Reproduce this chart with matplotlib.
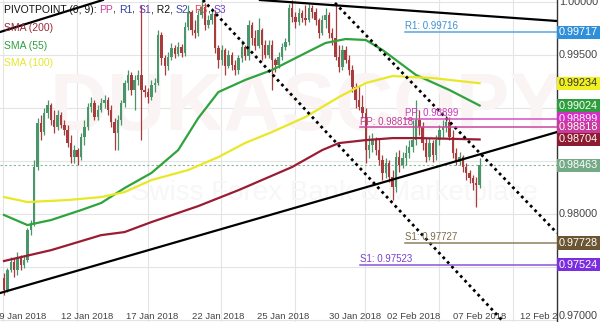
import matplotlib
matplotlib.use("Agg")
import matplotlib.pyplot as plt
import matplotlib.transforms as mtransforms
import numpy as np

plt.rcParams['font.family'] = ['Liberation Sans', 'DejaVu Sans']

# 4H candles, open of each candle = close of the previous one
first_open = 0.97397
closes = [0.97284, 0.97471, 0.97548, 0.97471, 0.97586, 0.97519, 0.97567, 0.97850, 0.97916, 0.98444,
          0.98859, 0.98774, 0.98953, 0.99029, 0.98887, 0.98821, 0.98935, 0.98840, 0.98793, 0.98671,
          0.98539, 0.98605, 0.98539, 0.98727, 0.98821, 0.99010, 0.99048, 0.98916, 0.98982, 0.99048,
          0.99076, 0.98982, 0.98869, 0.98765, 0.98887, 0.99048, 0.99236, 0.99312, 0.99170, 0.99265,
          0.99312, 0.99170, 0.99151, 0.99104, 0.99217, 0.99236, 0.99689, 0.99472, 0.99397, 0.99481,
          0.99566, 0.99510, 0.99576, 0.99519, 0.99764, 0.99906, 0.99736, 0.99708, 0.99878, 0.99953,
          0.99783, 0.99830, 0.99887, 0.99566, 0.99453, 0.99547, 0.99397, 0.99500, 0.99406, 0.99359,
          0.99472, 0.99576, 0.99491, 0.99783, 0.99661, 0.99585, 0.99736, 0.99595, 0.99500, 0.99595,
          0.99453, 0.99406, 0.99481, 0.99576, 0.99623, 0.99944, 0.99859, 0.99812, 0.99896, 0.99849,
          0.99830, 0.99944, 0.99906, 0.99830, 0.99708, 0.99830, 0.99878, 0.99708, 0.99661, 0.99481,
          0.99387, 0.99547, 0.99453, 0.99359, 0.99199, 0.99076, 0.99010, 0.98953, 0.98605, 0.98652,
          0.98699, 0.98605, 0.98510, 0.98388, 0.98482, 0.98350, 0.98255, 0.98539, 0.98463, 0.98529,
          0.98576, 0.98633, 0.98699, 0.98887, 0.98821, 0.98671, 0.98539, 0.98671, 0.98557, 0.98699,
          0.98793, 0.98821, 0.98869, 0.98727, 0.98576, 0.98491, 0.98539, 0.98444, 0.98388, 0.98341,
          0.98293, 0.98274, 0.98463]
highs = [0.97445, 0.97492, 0.97595, 0.97586, 0.97643, 0.97614, 0.97614, 0.97869, 0.97944, 0.98510,
         0.98906, 0.98935, 0.99001, 0.99076, 0.99048, 0.98982, 0.98982, 0.98963, 0.98887, 0.98840,
         0.98746, 0.98652, 0.98623, 0.98765, 0.98887, 0.99048, 0.99104, 0.99076, 0.99029, 0.99095,
         0.99123, 0.99104, 0.99029, 0.98906, 0.98935, 0.99076, 0.99265, 0.99359, 0.99340, 0.99312,
         0.99359, 0.99972, 0.99217, 0.99189, 0.99265, 0.99283, 0.99736, 0.99717, 0.99500, 0.99529,
         0.99614, 0.99595, 0.99623, 0.99604, 0.99812, 0.99972, 0.99925, 0.99830, 0.99925, 1.00019,
         0.99991, 0.99878, 0.99944, 0.99925, 0.99595, 0.99595, 0.99566, 0.99547, 0.99529, 0.99453,
         0.99500, 0.99642, 0.99595, 0.99830, 0.99812, 0.99736, 0.99849, 0.99755, 0.99642, 0.99642,
         0.99642, 0.99472, 0.99529, 0.99614, 0.99661, 0.99981, 1.00019, 0.99906, 0.99944, 0.99925,
         0.99972, 0.99981, 0.99972, 0.99944, 0.99849, 0.99878, 0.99944, 0.99906, 0.99755, 0.99991,
         0.99595, 0.99595, 0.99585, 0.99500, 0.99406, 0.99236, 0.99217, 0.99123, 0.99001, 0.98746,
         0.98765, 0.98727, 0.98718, 0.98557, 0.98529, 0.98510, 0.98416, 0.98586, 0.98605, 0.98586,
         0.98652, 0.98699, 0.98887, 0.99076, 0.98982, 0.98869, 0.98718, 0.98718, 0.98699, 0.98746,
         0.98840, 0.98887, 0.98935, 0.98916, 0.98793, 0.98623, 0.98586, 0.98557, 0.98482, 0.98416,
         0.98369, 0.98350, 0.98529]
lows = [0.97237, 0.97265, 0.97454, 0.97407, 0.97426, 0.97471, 0.97492, 0.97548, 0.97803, 0.97888,
        0.98416, 0.98699, 0.98746, 0.98906, 0.98840, 0.98765, 0.98793, 0.98812, 0.98746, 0.98633,
        0.98482, 0.98482, 0.98463, 0.98510, 0.98652, 0.98793, 0.98963, 0.98887, 0.98887, 0.98963,
        0.99001, 0.98935, 0.98821, 0.98605, 0.98605, 0.98840, 0.99010, 0.99170, 0.99123, 0.98982,
        0.99217, 0.98699, 0.99104, 0.99048, 0.99076, 0.99151, 0.99217, 0.99406, 0.99312, 0.99359,
        0.99453, 0.99472, 0.99491, 0.99481, 0.99491, 0.99736, 0.99689, 0.99661, 0.99679, 0.99849,
        0.99736, 0.99755, 0.99793, 0.99519, 0.99378, 0.99406, 0.99312, 0.99378, 0.99359, 0.99312,
        0.99321, 0.99434, 0.99453, 0.99453, 0.99595, 0.99547, 0.99566, 0.99453, 0.99472, 0.99472,
        0.99170, 0.99340, 0.99378, 0.99453, 0.99547, 0.99595, 0.99812, 0.99755, 0.99783, 0.99812,
        0.99783, 0.99812, 0.99849, 0.99783, 0.99661, 0.99689, 0.99755, 0.99661, 0.99595, 0.99453,
        0.99340, 0.99359, 0.99425, 0.99312, 0.99151, 0.99001, 0.98982, 0.98906, 0.98482, 0.98529,
        0.98586, 0.98557, 0.98463, 0.98322, 0.98341, 0.98303, 0.98133, 0.98208, 0.98397, 0.98435,
        0.98463, 0.98529, 0.98586, 0.98652, 0.98746, 0.98605, 0.98491, 0.98510, 0.98491, 0.98510,
        0.98652, 0.98718, 0.98774, 0.98699, 0.98529, 0.98463, 0.98463, 0.98397, 0.98322, 0.98293,
        0.98227, 0.98067, 0.98246]

# moving averages (candle index, value)
sma200_idx = [0, 14, 29, 36, 44, 58, 70, 86, 95, 100, 108, 116, 124, 142]
sma200_val = [0.97558, 0.97660, 0.97802, 0.97831, 0.97925, 0.98076, 0.98226, 0.98444, 0.98604,
              0.98670, 0.98698, 0.98717, 0.98717, 0.98704]
sma55_idx = [0, 7, 14, 23, 29, 36, 44, 52, 58, 64, 72, 80, 90, 96, 102, 108, 113, 123, 133, 142]
sma55_val = [0.97992, 0.97897, 0.97944, 0.98038, 0.98105, 0.98246, 0.98388, 0.98604, 0.98906,
             0.99151, 0.99265, 0.99359, 0.99519, 0.99614, 0.99651, 0.99642, 0.99548, 0.99312,
             0.99170, 0.99024]
sma100_idx = [0, 7, 19, 29, 36, 44, 55, 64, 72, 80, 90, 100, 108, 116, 128, 142]
sma100_val = [0.98161, 0.98114, 0.98133, 0.98161, 0.98208, 0.98321, 0.98416, 0.98538, 0.98671,
              0.98774, 0.98916, 0.99104, 0.99236, 0.99302, 0.99283, 0.99234]

# trend lines: (index, price) endpoints
trend_solid = [((-1.2, 0.97256), (165.1, 0.98774)),
               ((-1.2, 0.99717), (29.5, 1.00019)),
               ((76.4, 1.00019), (165.1, 0.99821))]
trend_dotted = [((59.4, 1.00019), (148.7, 0.96999)),
                ((98.8, 0.99991), (165.1, 0.97822))]

# pivot levels: label, value, start index, line colour, text colour
pivots = [("R1: 0.99716", 0.99716, 119.7, "#5aa3e0", "#3f8fd4"),
          ("PP: 0.98899", 0.98899, 119.7, "#d64fc6", "#c83cb8"),
          ("PP: 0.98818", 0.98818, 106.3, "#c8479e", "#c03a94"),
          ("S1: 0.97727", 0.97727, 119.7, "#8f7f60", "#7d6c4c"),
          ("S1: 0.97523", 0.97523, 106.3, "#8c52dc", "#7a3fd0")]

last_price = 0.98463

# right-hand value badges
badges = [(0.99717, "#2f8fd8", "white"), (0.99234, "#f0f020", "#333333"),
          (0.99024, "#2e9e3c", "white"), (0.98899, "#d42ec6", "white"),
          (0.98818, "#c83a9c", "white"), (0.98704, "#8e1c30", "white"),
          (0.98463, "#74aa86", "white"), (0.97728, "#6b5532", "white"),
          (0.97524, "#7a2ee0", "white")]
axis_labels = [1.0, 0.995, 0.98, 0.97]

date_ticks = [4.8, 24.8, 44.2, 63.9, 83.3, 104.8, 122.4, 142.1, 162.1]
date_labels = ["09 Jan 2018", "12 Jan 2018", "17 Jan 2018", "22 Jan 2018", "25 Jan 2018",
               "30 Jan 2018", "02 Feb 2018", "07 Feb 2018", "12 Feb 2018"]
grid_x = [-0.3, 21.8, 43.0, 64.8, 86.9, 107.8, 129.9, 151.9]
grid_y = [1.0, 0.995, 0.99, 0.985, 0.98, 0.975, 0.97]

fig = plt.figure(figsize=(6, 3.22), dpi=100)
ax = fig.add_axes([0, 0, 557 / 600, 1])
ax.set_xlim(-1.2, 165.1)
ax.set_ylim(0.96983, 1.00019)
for s in ["left", "top", "bottom"]:
    ax.spines[s].set_visible(False)
ax.spines["right"].set_color("#333333")
ax.spines["right"].set_linewidth(1)
ax.set_xticks([])
ax.set_yticks([])

for gx in grid_x:
    ax.axvline(gx, color="#e4e4e4", lw=0.8, zorder=0)
for gy in grid_y:
    ax.axhline(gy, color="#e4e4e4", lw=0.8, zorder=0)

# watermark
ax.text(0.55, 0.66, "DUKASCOPY", transform=ax.transAxes, ha="center", va="center",
        fontsize=58, fontweight="bold", color="#fbf4f4", zorder=0)
ax.text(0.6, 0.4, "Swiss Forex Bank & Marketplace", transform=ax.transAxes, ha="center",
        va="center", fontsize=20, color="#f7f7f7", zorder=0)

# candles
opens = [first_open] + closes[:-1]
x = np.arange(len(closes))
o = np.array(opens)
c = np.array(closes)
up = c >= o
cols = np.where(up, "#4a966a", "#a83c3c")
ax.vlines(x, lows, highs, colors=cols, lw=0.9, zorder=3)
ax.bar(x, np.maximum(np.abs(c - o), 0.00004), bottom=np.minimum(o, c), width=0.72,
       color=cols, zorder=4)

# moving averages
ax.plot(sma200_idx, sma200_val, color="#9a1c34", lw=1.6, zorder=5)
ax.plot(sma55_idx, sma55_val, color="#2ea33e", lw=1.6, zorder=5)
ax.plot(sma100_idx, sma100_val, color="#e8e826", lw=1.6, zorder=5)

# trend lines
for (x0, y0), (x1, y1) in trend_solid:
    ax.plot([x0, x1], [y0, y1], color="black", lw=1.6, zorder=6)
for (x0, y0), (x1, y1) in trend_dotted:
    ax.plot([x0, x1], [y0, y1], color="black", lw=2, linestyle=(0, (1, 1.3)), zorder=6)

# current price
ax.axhline(last_price, color="#86b896", lw=0.8, linestyle=(0, (2, 2)), zorder=2)

# pivot levels
for lab, val, start, lc, tc in pivots:
    ax.plot([start, 165.1], [val, val], color=lc, lw=1.1, zorder=6)
    ax.text(start, val + 0.00006, lab, color=tc, fontsize=7, va="bottom", ha="left", zorder=7)

# right side labels
ytr = mtransforms.blended_transform_factory(fig.transFigure, ax.transData)
for val, bg, fg in badges:
    fig.text(559 / 600, val, f"{val:.5f}", transform=ytr, fontsize=7.8, color=fg,
             va="center", ha="left",
             bbox=dict(boxstyle="square,pad=0.14", fc=bg, ec="none"))
for val in axis_labels:
    lbl_tr = ytr
    if val < 0.975:
        lbl_tr = mtransforms.offset_copy(ytr, fig=fig, y=4, units="dots")
    fig.text(559 / 600, val, f"{val:.5f}", transform=lbl_tr, fontsize=7.8, color="#444444",
             va="center", ha="left")

# date labels
xtr = mtransforms.blended_transform_factory(ax.transData, ax.transAxes)
for t, lab in zip(date_ticks, date_labels):
    ax.text(t, 0.004, lab, transform=xtr, fontsize=6.8, color="#444444", ha="center",
            va="bottom", clip_on=True)

# legend texts, top left
parts = [("PIVOTPOINT (0, 9): ", "#111111"), ("PP", "#c8409e"), (", ", "#111111"),
         ("R1", "#2a3ea8"), (", ", "#111111"), ("S1", "#6a3ab4"), (", R2, ", "#111111"),
         ("S2", "#3a4aa8"), (", ", "#111111"), ("R3", "#e04848"), (", ", "#111111"),
         ("S3", "#7a40c8")]
fig.canvas.draw()
renderer = fig.canvas.get_renderer()
tr = ax.transAxes
for s, col in parts:
    t = ax.text(4 / 557, 1 - 10 / 322, s, color=col, transform=tr, fontsize=7.5,
                va="center", ha="left", zorder=8)
    t.draw(renderer)
    ex = t.get_window_extent(renderer)
    tr = mtransforms.offset_copy(t.get_transform(), fig=fig, x=ex.width, units="dots")

for lab, col, yp in [("SMA (200)", "#9b2a3a", 28), ("SMA (55)", "#2ea040", 46),
                     ("SMA (100)", "#e6e62e", 63)]:
    ax.text(4 / 557, 1 - yp / 322, lab, color=col, transform=ax.transAxes, fontsize=7.5,
            va="center", ha="left", zorder=8)

fig.savefig("out.png", dpi=100)
